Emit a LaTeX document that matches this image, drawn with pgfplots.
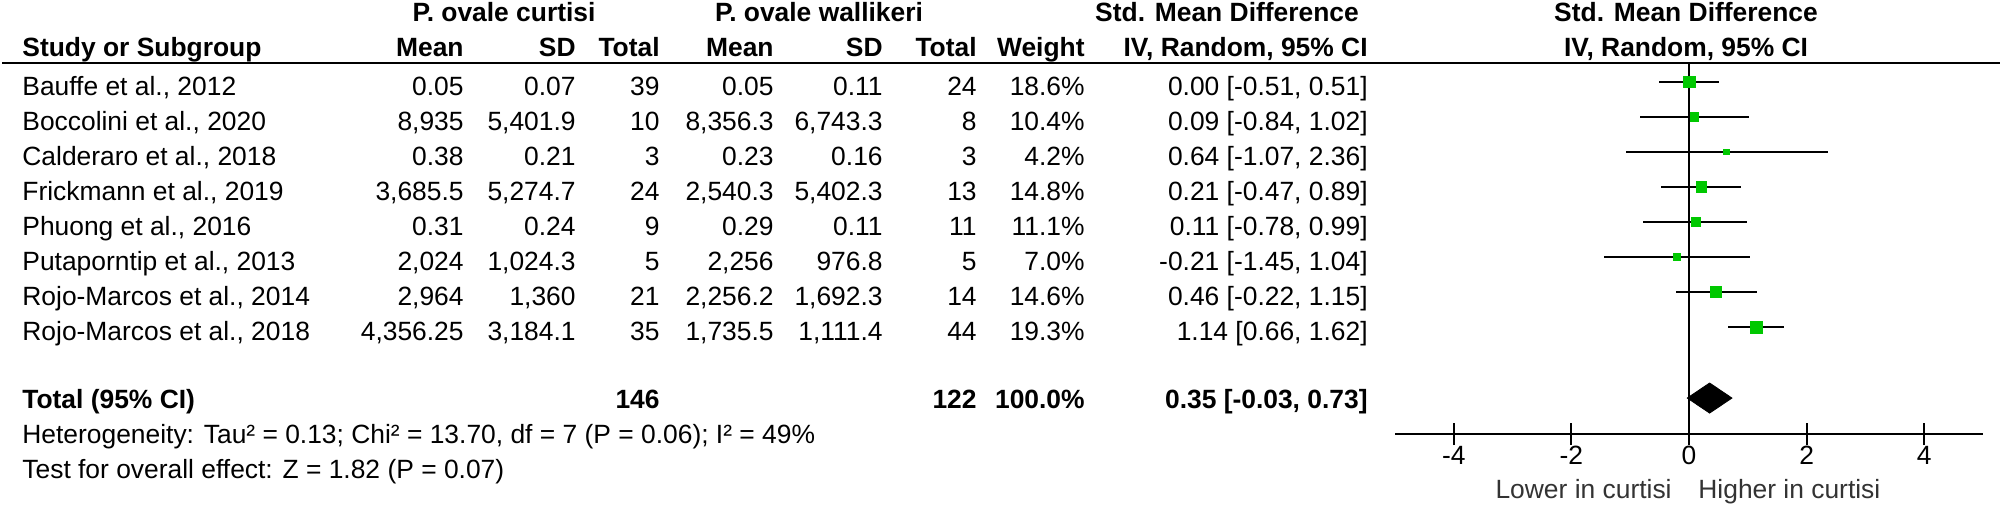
\documentclass[border=0pt]{standalone}
\usepackage{fontspec}
\setmainfont{Liberation Sans}
\usepackage{pgfplots}
\usepackage{pgfplotstable}
\pgfplotsset{compat=1.18}
\definecolor{fgreen}{RGB}{0,200,0}
\pgfplotstableread{
row smd lo hi w
1 0.00 -0.51 0.51 18.6
2 0.09 -0.84 1.02 10.4
3 0.64 -1.07 2.36 4.2
4 0.21 -0.47 0.89 14.8
5 0.11 -0.78 0.99 11.1
6 -0.21 -1.45 1.04 7.0
7 0.46 -0.22 1.15 14.6
8 1.14 0.66 1.62 19.3
}\smdtable
\newcommand\fs{\fontsize{13.2}{15}\selectfont}
\newcommand\R[3]{\node[anchor=base east] at (#1,#2) {#3};}
\newcommand\Lt[3]{\node[anchor=base west] at (#1,#2) {#3};}
\newcommand\Cc[3]{\node[anchor=base] at (#1,#2) {#3};}
\newcommand\RowA[8]{\Lt{22}{#1}{#2}\R{464}{#1}{#3}\R{576}{#1}{#4}\R{660}{#1}{#5}\R{774}{#1}{#6}\R{883}{#1}{#7}\R{977}{#1}{#8}}
\newcommand\RowB[3]{\R{1085}{#1}{#2}\R{1368}{#1}{#3}}
\begin{document}
\begin{tikzpicture}[every node/.style={inner sep=0pt, font=\fs}]
\begin{scope}[x=0.5pt,y=-0.5pt]
\path[use as bounding box] (0,0) rectangle (2005,506);
% header row 1
\begin{scope}[every node/.append style={font=\fs\bfseries}]
\Cc{504}{22}{P. ovale curtisi}
\Cc{819}{22}{P. ovale wallikeri}
\Cc{1227}{22}{Std. Mean Difference}
\Cc{1686}{22}{Std. Mean Difference}
% header row 2
\Lt{22}{57}{Study or Subgroup}
\R{464}{57}{Mean}\R{576}{57}{SD}\R{660}{57}{Total}
\R{774}{57}{Mean}\R{883}{57}{SD}\R{977}{57}{Total}
\R{1085}{57}{Weight}\R{1368}{57}{IV, Random, 95\% CI}
\Cc{1686}{57}{IV, Random, 95\% CI}
% total row
\Lt{22}{409}{Total (95\% CI)}
\R{660}{409}{146}\R{977}{409}{122}
\R{1085}{409}{100.0\%}\R{1368}{409}{0.35 [-0.03, 0.73]}
\end{scope}
\draw[line width=1.25pt] (2,63) -- (2000,63);
% study rows
\RowA{96}{Bauffe et al., 2012}{0.05}{0.07}{39}{0.05}{0.11}{24}
\RowB{96}{18.6\%}{0.00 [-0.51, 0.51]}
\RowA{131}{Boccolini et al., 2020}{8,935}{5,401.9}{10}{8,356.3}{6,743.3}{8}
\RowB{131}{10.4\%}{0.09 [-0.84, 1.02]}
\RowA{166}{Calderaro et al., 2018}{0.38}{0.21}{3}{0.23}{0.16}{3}
\RowB{166}{4.2\%}{0.64 [-1.07, 2.36]}
\RowA{201}{Frickmann et al., 2019}{3,685.5}{5,274.7}{24}{2,540.3}{5,402.3}{13}
\RowB{201}{14.8\%}{0.21 [-0.47, 0.89]}
\RowA{236}{Phuong et al., 2016}{0.31}{0.24}{9}{0.29}{0.11}{11}
\RowB{236}{11.1\%}{0.11 [-0.78, 0.99]}
\RowA{271}{Putaporntip et al., 2013}{2,024}{1,024.3}{5}{2,256}{976.8}{5}
\RowB{271}{7.0\%}{-0.21 [-1.45, 1.04]}
\RowA{306}{Rojo-Marcos et al., 2014}{2,964}{1,360}{21}{2,256.2}{1,692.3}{14}
\RowB{306}{14.6\%}{0.46 [-0.22, 1.15]}
\RowA{341}{Rojo-Marcos et al., 2018}{4,356.25}{3,184.1}{35}{1,735.5}{1,111.4}{44}
\RowB{341}{19.3\%}{1.14 [0.66, 1.62]}
% footer
\Lt{22}{444}{Heterogeneity: Tau² = 0.13; Chi² = 13.70, df = 7 (P = 0.06); I² = 49\%}
\Lt{22}{479}{Test for overall effect: Z = 1.82 (P = 0.07)}
\node[anchor=base east, text=black!80] at (1672,499) {Lower in curtisi};
\node[anchor=base west, text=black!80] at (1698,499) {Higher in curtisi};
\end{scope}
\begin{axis}[at={(697.5pt,-217pt)}, anchor=south west, scale only axis,
  width=294pt, height=185.5pt,
  xmin=-5, xmax=5, ymin=-11.057, ymax=-0.457,
  axis x line=bottom, axis y line=none,
  x axis line style={-, line width=1.25pt},
  xtick={-4,-2,0,2,4}, tick align=center, major tick length=11pt,
  xtick style={line width=1pt, black},
  /pgf/number format/assume math mode=true,
  xticklabel style={font=\fs, anchor=base, yshift=-9.5pt},
  clip=false]
\addplot[black, line width=1pt, mark=none] coordinates {(0,-0.457) (0,-11.057)};
\addplot[draw=none, mark=none, forget plot,
  error bars/.cd, x dir=both, x explicit, error mark=none,
  error bar style={draw=black, line width=1.4pt, solid}]
  table[x=smd, y expr=-\thisrow{row},
        x error minus expr=\thisrow{smd}-\thisrow{lo},
        x error plus expr=\thisrow{hi}-\thisrow{smd}] {\smdtable};
\addplot[only marks, mark=square*, scatter,
  scatter/use mapped color={draw=fgreen, fill=fgreen},
  visualization depends on={0.68*sqrt(\thisrow{w}) \as \ms},
  scatter/@pre marker code/.append style={/tikz/mark size=\ms}]
  table[x=smd, y expr=-\thisrow{row}] {\smdtable};
\addplot[fill=black, draw=black] coordinates {(-0.03,-10.03) (0.35,-9.6) (0.73,-10.03) (0.35,-10.46)} -- cycle;
\end{axis}
\end{tikzpicture}
\end{document}
